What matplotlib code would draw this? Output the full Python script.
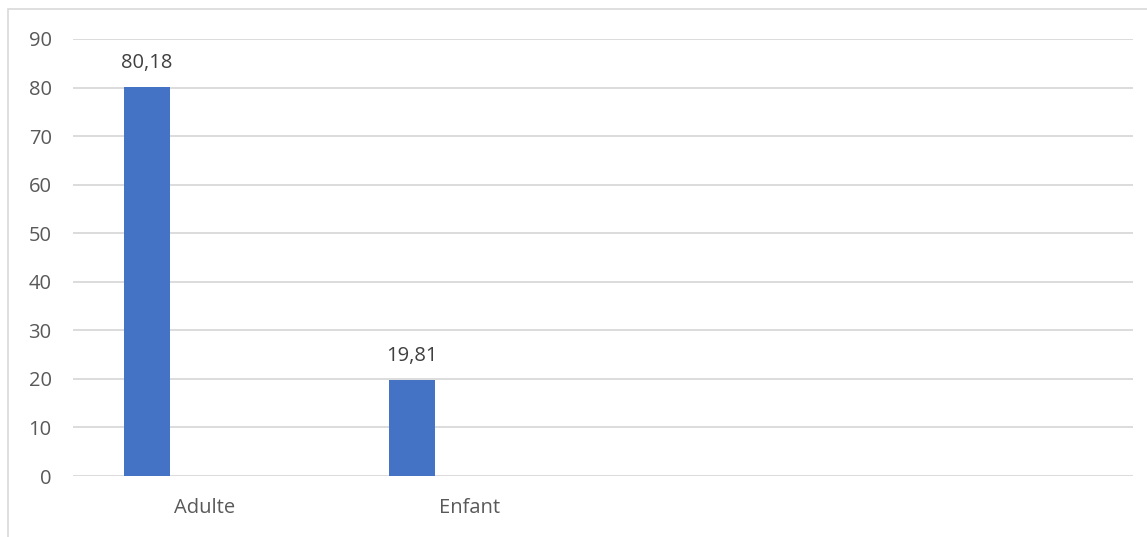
import matplotlib
matplotlib.use("Agg")
import matplotlib.pyplot as plt
from matplotlib.patches import Rectangle

# Category slots on the axis (the last two are left empty)
categories = ["Adulte", "Enfant", "", ""]
values = [80.18, 19.81]
value_labels = ["80,18", "19,81"]
y_ticks = [0, 10, 20, 30, 40, 50, 60, 70, 80, 90]

BAR_COLOR = "#4472C4"
GRID_COLOR = "#D9D9D9"
TEXT_COLOR = "#595959"
FONT = ["Open Sans", "DejaVu Sans"]
FS = 14.5

W, H = 1147, 537
fig = plt.figure(figsize=(W / 100, H / 100), dpi=100)
fig.patch.set_facecolor("white")

# chart-area border
fig.patches.append(Rectangle((8 / W, -0.2), 1.2, (H - 9) / H + 0.2,
                             transform=fig.transFigure, fill=False,
                             edgecolor=GRID_COLOR, linewidth=1.2))

ax = fig.add_axes([72.5 / W, 1 - 476 / H, 1060 / W, (476 - 39) / H])

x = list(range(len(categories)))
bar_offset = -0.219
bar_width = 0.174
bar_x = [i + bar_offset for i in range(len(values))]
ax.bar(bar_x, values, width=bar_width, color=BAR_COLOR, zorder=3)

for bx, v, lab in zip(bar_x, values, value_labels):
    ax.annotate(lab, (bx, v), xytext=(0, 10), textcoords="offset points",
                ha="center", va="bottom", fontsize=FS, color="#404040",
                family=FONT)

ax.set_xlim(-0.5, len(categories) - 0.5)
ax.set_ylim(0, 90)
ax.set_yticks(y_ticks)
ax.set_yticklabels([str(t) for t in y_ticks])
ax.set_xticks(x)
ax.set_xticklabels(categories)

for lab in ax.get_xticklabels() + ax.get_yticklabels():
    lab.set_family(FONT)
    lab.set_fontsize(FS)
    lab.set_color(TEXT_COLOR)

ax.tick_params(axis="both", length=0)
ax.tick_params(axis="y", pad=15)
ax.tick_params(axis="x", pad=16)

ax.grid(axis="y", color=GRID_COLOR, linewidth=1.3, zorder=0)
ax.set_axisbelow(True)
for s in ax.spines.values():
    s.set_visible(False)
ax.set_facecolor("none")

fig.savefig("out.png", dpi=100)
